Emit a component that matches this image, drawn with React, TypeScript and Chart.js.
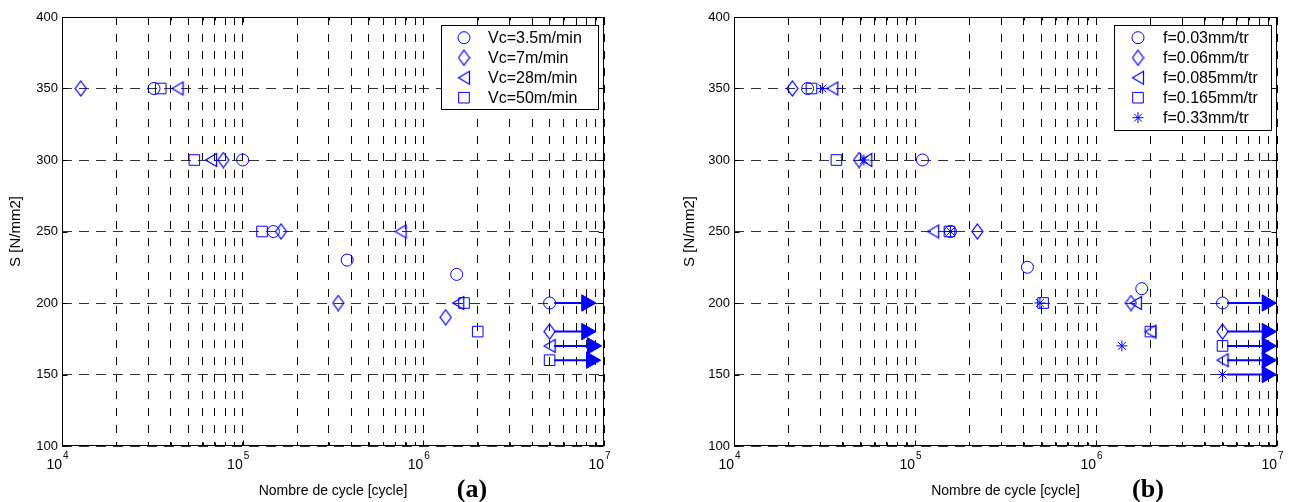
import React, { useEffect, useRef } from 'react';
import { Chart, registerables } from 'chart.js';
import { drawPoint } from 'chart.js/helpers';

Chart.register(...registerables);

// ---------- axis ticks ----------
const xTickValues = [
  10000, 20000, 30000, 40000, 50000, 60000, 70000, 80000, 90000,
  100000, 200000, 300000, 400000, 500000, 600000, 700000, 800000, 900000,
  1000000, 2000000, 3000000, 4000000, 5000000, 6000000, 7000000, 8000000, 9000000,
  10000000,
];
const xDecades = [10000, 100000, 1000000, 10000000];
const xDecadeExponents = ['4', '5', '6', '7'];
const yTickValues = [100, 150, 200, 250, 300, 350, 400];

// ---------- panel (a): cutting speed Vc ----------
const vcLabels = ['Vc=3.5m/min', 'Vc=7m/min', 'Vc=28m/min', 'Vc=50m/min'];
const vc35X = [32300, 100000, 148000, 379000, 1530000, 5000000];
const vc35Y = [350, 300, 250, 230, 220, 200];
const vc7X = [12700, 78200, 163000, 338000, 1330000, 5000000];
const vc7Y = [350, 300, 250, 200, 190, 180];
const vc28X = [43600, 66800, 748000, 1560000, 5000000];
const vc28Y = [350, 300, 250, 200, 170];
const vc50X = [35200, 54000, 128000, 1680000, 2000000, 5000000];
const vc50Y = [350, 300, 250, 200, 180, 160];
const vcArrowY = [200, 180, 170, 160];
const vcArrowEnd = [8000000, 8000000, 8600000, 8500000];

// ---------- panel (b): feed f ----------
const fLabels = ['f=0.03mm/tr', 'f=0.06mm/tr', 'f=0.085mm/tr', 'f=0.165mm/tr', 'f=0.33mm/tr'];
const f003X = [25500, 110000, 157000, 418000, 1790000, 5000000];
const f003Y = [350, 300, 250, 225, 210, 200];
const f006X = [21000, 49100, 221000, 1560000, 5000000];
const f006Y = [350, 300, 250, 200, 180];
const f0085X = [34900, 53800, 126000, 1660000, 2000000, 5000000];
const f0085Y = [350, 300, 250, 200, 180, 160];
const f0165X = [26800, 36800, 155000, 510000, 2000000, 5000000];
const f0165Y = [350, 300, 250, 200, 180, 170];
const f033X = [30800, 52200, 157000, 490000, 1390000, 5000000];
const f033Y = [350, 300, 250, 200, 170, 150];
const fArrowY = [200, 180, 160, 170, 150];
const fArrowEnd = [8800000, 8800000, 8800000, 8800000, 8800000];

const arrowStart = 5300000;

// ---------- styles ----------
const BLUE = '#0000ff';
const SANS = '"Liberation Sans", Arial, sans-serif';
const SERIF = '"Liberation Serif", "Times New Roman", serif';

function makeMarkerCanvas(w: number, h: number, path: (c: CanvasRenderingContext2D) => void) {
  const c = document.createElement('canvas');
  c.width = w;
  c.height = h;
  const g = c.getContext('2d')!;
  g.strokeStyle = BLUE;
  g.lineWidth = 1.25;
  g.beginPath();
  path(g);
  g.closePath();
  g.stroke();
  return c;
}

// Matlab-like diamond (taller than wide) and left-pointing triangle
const diamondImg = makeMarkerCanvas(13, 17, (g) => {
  g.moveTo(6.5, 1);
  g.lineTo(12, 8.5);
  g.lineTo(6.5, 16);
  g.lineTo(1, 8.5);
});
const triangleImg = makeMarkerCanvas(14, 16, (g) => {
  g.moveTo(1.5, 8);
  g.lineTo(12.5, 1.5);
  g.lineTo(12.5, 14.5);
});

type Marker = { pointStyle: any; radius: number; rotation: number };
const mCircle: Marker = { pointStyle: 'circle', radius: 6, rotation: 0 };
const mDiamond: Marker = { pointStyle: diamondImg, radius: 7, rotation: 0 };
const mTriangle: Marker = { pointStyle: triangleImg, radius: 7, rotation: 0 };
const mSquare: Marker = { pointStyle: 'rect', radius: 7.5, rotation: 0 };
const mStar: Marker = { pointStyle: 'star', radius: 5.5, rotation: 0 };

function scatterSet(xs: number[], ys: number[], m: Marker) {
  return {
    data: xs.map((x, i) => ({ x, y: ys[i] })),
    showLine: false,
    borderColor: BLUE,
    backgroundColor: 'rgba(0,0,0,0)',
    pointStyle: m.pointStyle,
    pointRadius: m.radius,
    pointRotation: m.rotation,
    pointBorderWidth: 1,
    pointBorderColor: BLUE,
    pointBackgroundColor: 'rgba(0,0,0,0)',
  };
}

function arrowSet(y: number, end: number) {
  return {
    data: [{ x: arrowStart, y }, { x: end, y }],
    showLine: true,
    borderColor: BLUE,
    borderWidth: 2,
    backgroundColor: BLUE,
    pointStyle: 'triangle',
    pointRotation: 90,
    pointRadius: [0, 9.5],
    pointBorderWidth: 1,
    pointBorderColor: BLUE,
    pointBackgroundColor: BLUE,
  };
}

const framePlugin = {
  id: 'frame',
  afterDraw(chart: any, _args: any, opts: any) {
    const { ctx, chartArea: a, scales } = chart;
    const xs = scales.x;
    const ys = scales.y;
    ctx.save();
    ctx.setLineDash([]);
    ctx.strokeStyle = '#000';
    ctx.lineWidth = 1;
    const L = Math.round(a.left) + 0.5;
    const R = Math.round(a.right) - 0.5;
    const T = Math.round(a.top) + 0.5;
    const B = Math.round(a.bottom) - 0.5;
    ctx.strokeRect(L, T, R - L, B - T);

    // inner tick marks
    ctx.beginPath();
    for (const v of xTickValues) {
      const px = Math.round(xs.getPixelForValue(v)) + 0.5;
      const len = xDecades.includes(v) ? 5 : 3;
      ctx.moveTo(px, B);
      ctx.lineTo(px, B - len);
      ctx.moveTo(px, T);
      ctx.lineTo(px, T + len);
    }
    for (const v of yTickValues) {
      const py = Math.round(ys.getPixelForValue(v)) + 0.5;
      ctx.moveTo(L, py);
      ctx.lineTo(L + 5, py);
      ctx.moveTo(R, py);
      ctx.lineTo(R - 5, py);
    }
    ctx.stroke();

    // x tick labels 10^n
    ctx.fillStyle = '#000';
    xDecades.forEach((v, i) => {
      const px = xs.getPixelForValue(v);
      ctx.font = `14px ${SANS}`;
      ctx.textAlign = 'right';
      ctx.textBaseline = 'alphabetic';
      ctx.fillText('10', px, 469);
      ctx.font = `10px ${SANS}`;
      ctx.textAlign = 'left';
      ctx.fillText(xDecadeExponents[i], px + 1, 459);
    });

    // axis titles
    ctx.font = `14px ${SANS}`;
    ctx.textAlign = 'center';
    ctx.textBaseline = 'alphabetic';
    ctx.fillText('Nombre de cycle [cycle]', (a.left + a.right) / 2, 495);
    ctx.save();
    ctx.translate(opts.yTitleX, (a.top + a.bottom) / 2);
    ctx.rotate(-Math.PI / 2);
    ctx.textBaseline = 'middle';
    ctx.font = `15px ${SANS}`;
    ctx.fillText('S [N/mm2]', 0, 0);
    ctx.restore();

    // panel label
    ctx.font = `bold 26px ${SERIF}`;
    ctx.textAlign = 'center';
    ctx.textBaseline = 'alphabetic';
    ctx.fillText(opts.panelLabel, opts.panelX, 497);

    // legend
    const lg = opts.legend;
    ctx.fillStyle = '#fff';
    ctx.fillRect(lg.x, lg.y, lg.w, lg.h);
    ctx.strokeStyle = '#000';
    ctx.lineWidth = 1;
    ctx.strokeRect(lg.x + 0.5, lg.y + 0.5, lg.w, lg.h);
    lg.items.forEach((it: any, i: number) => {
      const yy = lg.rowY0 + i * lg.rowH;
      ctx.save();
      ctx.strokeStyle = BLUE;
      ctx.fillStyle = 'rgba(0,0,0,0)';
      ctx.lineWidth = 1;
      drawPoint(ctx, { pointStyle: it.m.pointStyle, rotation: it.m.rotation, radius: it.m.radius, borderWidth: 1 } as any, lg.markerX, yy);
      ctx.restore();
      ctx.fillStyle = '#000';
      ctx.font = `16px ${SANS}`;
      ctx.textAlign = 'left';
      ctx.textBaseline = 'middle';
      ctx.fillText(it.label, lg.textX, yy + 1);
    });
    ctx.restore();
  },
};

function makeConfig(p: any) {
  return {
    type: 'scatter',
    data: { datasets: p.datasets },
    options: {
      animation: false,
      responsive: false,
      events: [],
      layout: { padding: { top: 17, right: p.padRight, left: 0, bottom: 0 } },
      plugins: {
        legend: { display: false },
        tooltip: { enabled: false },
        frame: p.frame,
      },
      scales: {
        x: {
          type: 'logarithmic',
          min: 10000,
          max: 10000000,
          afterBuildTicks: (s: any) => {
            s.ticks = xTickValues.map((v) => ({ value: v }));
          },
          afterFit: (s: any) => {
            s.height = 56;
          },
          ticks: { display: false },
          grid: { color: '#000', lineWidth: 1, drawTicks: false },
          border: { display: false, dash: [8, 9] },
        },
        y: {
          type: 'linear',
          min: 100,
          max: 400,
          afterBuildTicks: (s: any) => {
            s.ticks = yTickValues.map((v) => ({ value: v }));
          },
          afterFit: (s: any) => {
            s.width = p.yAxisWidth;
          },
          ticks: { color: '#000', font: { family: SANS, size: 13 }, padding: 4 },
          grid: { color: '#333', lineWidth: 1, drawTicks: false },
          border: { display: false, dash: [10, 7] },
        },
      },
    },
    plugins: [framePlugin],
  };
}

function Panel(props: { left: number; config: any }) {
  const ref = useRef<HTMLCanvasElement | null>(null);
  useEffect(() => {
    if (!ref.current) return;
    const chart = new Chart(ref.current, props.config);
    return () => chart.destroy();
  }, []);
  return (
    <canvas
      ref={ref}
      width={650}
      height={502}
      style={{ position: 'absolute', left: props.left, top: 0, width: 650, height: 502 }}
    />
  );
}

const leftConfig = makeConfig({
  padRight: 46,
  yAxisWidth: 62,
  datasets: [
    scatterSet(vc35X, vc35Y, mCircle),
    scatterSet(vc7X, vc7Y, mDiamond),
    scatterSet(vc28X, vc28Y, mTriangle),
    scatterSet(vc50X, vc50Y, mSquare),
    ...vcArrowY.map((y, i) => arrowSet(y, vcArrowEnd[i])),
  ],
  frame: {
    yTitleX: 16,
    panelLabel: '(a)',
    panelX: 472,
    legend: {
      x: 441, y: 25, w: 157, h: 84, markerX: 464, textX: 488, rowY0: 37.7, rowH: 20,
      items: [
        { label: vcLabels[0], m: mCircle },
        { label: vcLabels[1], m: mDiamond },
        { label: vcLabels[2], m: mTriangle },
        { label: vcLabels[3], m: mSquare },
      ],
    },
  },
});

const rightConfig = makeConfig({
  padRight: 23,
  yAxisWidth: 84,
  datasets: [
    scatterSet(f003X, f003Y, mCircle),
    scatterSet(f006X, f006Y, mDiamond),
    scatterSet(f0085X, f0085Y, mTriangle),
    scatterSet(f0165X, f0165Y, mSquare),
    scatterSet(f033X, f033Y, mStar),
    ...fArrowY.map((y, i) => arrowSet(y, fArrowEnd[i])),
  ],
  frame: {
    yTitleX: 40,
    panelLabel: '(b)',
    panelX: 498,
    legend: {
      x: 464, y: 25, w: 157, h: 105, markerX: 488, textX: 513, rowY0: 37.7, rowH: 20,
      items: [
        { label: fLabels[0], m: mCircle },
        { label: fLabels[1], m: mDiamond },
        { label: fLabels[2], m: mTriangle },
        { label: fLabels[3], m: mSquare },
        { label: fLabels[4], m: mStar },
      ],
    },
  },
});

export default function App() {
  return (
    <div style={{ position: 'absolute', left: 0, top: 0, width: 1300, height: 502, background: '#fff' }}>
      <Panel left={0} config={leftConfig} />
      <Panel left={650} config={rightConfig} />
    </div>
  );
}
